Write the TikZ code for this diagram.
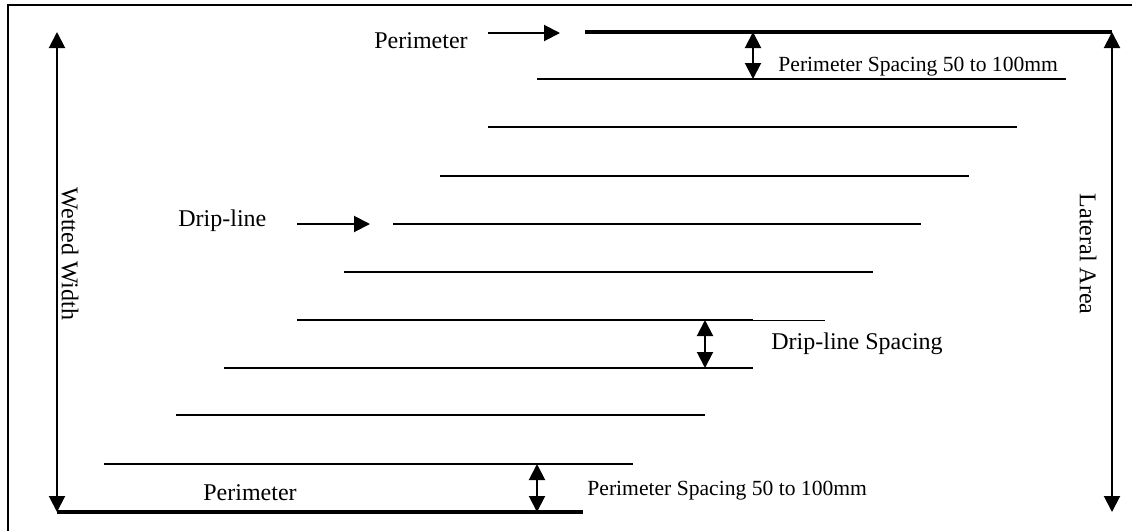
\documentclass[tikz,border=0pt]{standalone}
\usepackage{fontspec}
\setmainfont{Liberation Serif}
\usetikzlibrary{arrows.meta}
\begin{document}
\begin{tikzpicture}[x=0.5pt,y=-0.5pt,
  dripline/.style={line width=1pt},
  perimline/.style={line width=2pt},
  thinend/.style={line width=0.5pt},
  frameline/.style={line width=1pt},
  dim/.style={line width=1pt,{Triangle[length=8pt,width=8pt]}-{Triangle[length=8pt,width=8pt]}},
  pointer/.style={line width=1pt,-{Triangle[length=8pt,width=8pt]}},
  lbl/.style={inner sep=0pt,font=\fontsize{12}{14}\selectfont},
  slbl/.style={inner sep=0pt,font=\fontsize{10.8}{13}\selectfont}]
\useasboundingbox (0,0) rectangle (1132,531);
\fill[white] (0,0) rectangle (1132,531);
% frame (cropped at right and bottom)
\coordinate (fbl) at (8,531);
\coordinate (ftl) at (8,5);
\coordinate (ftr) at (1132,5);
\draw[frameline] (fbl) -- (ftl) -- (ftr);
% perimeter lines
\coordinate (pt1) at (585,32); \coordinate (pt2) at (1112,32);
\coordinate (pb1) at (57,512); \coordinate (pb2) at (583,512);
\draw[perimline] (pt1) -- (pt2);
\draw[perimline] (pb1) -- (pb2);
% drip lines
\coordinate (d1a) at (537,79);  \coordinate (d1b) at (1066,79);
\coordinate (d2a) at (488,127); \coordinate (d2b) at (1017,127);
\coordinate (d3a) at (440,176); \coordinate (d3b) at (969,176);
\coordinate (d4a) at (393,224); \coordinate (d4b) at (921,224);
\coordinate (d5a) at (344,272); \coordinate (d5b) at (873,272);
\coordinate (d6a) at (297,320); \coordinate (d6b) at (753,320); \coordinate (d6c) at (825,320);
\coordinate (d7a) at (224,368); \coordinate (d7b) at (753,368);
\coordinate (d8a) at (176,415); \coordinate (d8b) at (705,415);
\coordinate (d9a) at (104,464); \coordinate (d9b) at (633,464);
\foreach \i in {1,...,9} {\draw[dripline] (d\i a) -- (d\i b);}
\draw[thinend] (d6b) -- (d6c);
% wetted width and lateral area arrows
\coordinate (wwt) at (57,32);  \coordinate (wwb) at (57,512);
\coordinate (lat) at (1112,32); \coordinate (lab) at (1112,512);
\draw[dim] (wwt) -- (wwb);
\draw[dim] (lat) -- (lab);
\node[lbl,rotate=-90] (ww) at (70,254) {Wetted Width};
\node[lbl,rotate=-90] (la) at (1088,254) {Lateral Area};
% spacing arrows
\coordinate (s1t) at (753,32);  \coordinate (s1b) at (753,79);
\coordinate (s2t) at (705,320); \coordinate (s2b) at (705,368);
\coordinate (s3t) at (537,464); \coordinate (s3b) at (537,512);
\draw[dim] (s1t) -- (s1b);
\draw[dim] (s2t) -- (s2b);
\draw[dim] (s3t) -- (s3b);
\node[slbl,anchor=west] (ps1) at (778,67) {Perimeter Spacing 50 to 100mm};
\node[lbl,anchor=west] (dls) at (771,344) {Drip-line Spacing};
\node[slbl,anchor=west] (ps2) at (587,491) {Perimeter Spacing 50 to 100mm};
% pointer labels
\node[lbl,anchor=west] (perT) at (374,41) {Perimeter};
\coordinate (pa1) at (488,33); \coordinate (pa2) at (560,33);
\draw[pointer] (pa1) -- (pa2);
\node[lbl,anchor=west] (drip) at (178,221) {Drip-line};
\coordinate (da1) at (297,224); \coordinate (da2) at (370,224);
\draw[pointer] (da1) -- (da2);
\node[lbl,anchor=west] (perB) at (203,493) {Perimeter};
\end{tikzpicture}
\end{document}
